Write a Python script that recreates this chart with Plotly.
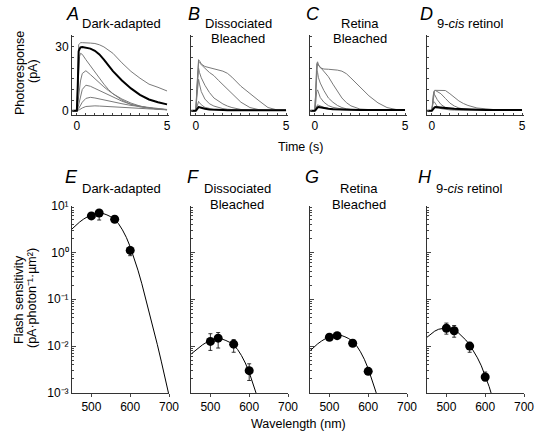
import plotly.graph_objects as go

# ---------------- data: photoresponses (pA) ----------------
time_s = [-0.25, 0, 0.05, 0.1, 0.15, 0.2, 0.3, 0.5, 0.75, 1.0, 1.25, 1.5, 1.75, 2.0, 2.5, 3.0, 3.5, 4.0, 4.5, 5.0]

A_thin = [
    [0, 0, 15, 31, 31.5, 32, 32, 32, 31.8, 31.6, 31, 30, 28.6, 27, 22.5, 18.5, 15.3, 12.5, 11, 9.3],
    [0, 0, 10, 22, 25.5, 27, 26.5, 24, 21, 18, 15, 12.5, 10, 8, 5, 3, 1.8, 1.2, 0.8, 0.5],
    [0, 0, 3, 8, 11, 14, 17.5, 18.8, 17, 15, 13, 11.2, 9.5, 8, 5.5, 3.6, 2.2, 1.3, 0.8, 0.5],
    [0, 0, 1, 3, 5, 7, 10, 12, 11.5, 10.5, 9.5, 8.5, 7.5, 6.3, 4.5, 3, 2, 1.3, 0.8, 0.5],
    [0, 0, 0.3, 1, 1.8, 2.5, 4, 5.8, 6.3, 6, 5.5, 5, 4.6, 4.2, 3.3, 2.5, 2, 1.5, 1, 0.6],
    [0, 0, 0, 0.3, 0.5, 0.8, 1.3, 2, 2.3, 2.3, 2.2, 2.1, 2, 1.9, 1.6, 1.3, 1, 0.8, 0.6, 0.4],
]
A_thick = [0, 0, 12, 28, 29, 29.8, 30, 29.8, 29.2, 28.2, 26.5, 24, 21, 18.6, 14.2, 10.5, 7.5, 5.3, 4, 3]

B_thin = [
    [0, 0, 10, 22, 24, 23.5, 22, 20.8, 20.2, 19.6, 19.2, 18.6, 17.6, 15.8, 11.5, 8, 4.7, 1.5, 0.4, 0.3],
    [0, 0, 9, 21, 23, 22.5, 21.5, 20, 18, 16.5, 14.3, 12.3, 10.2, 8, 4, 1.5, 0.5, 0.3, 0.3, 0.2],
    [0, 0, 8, 17, 20, 18, 15.5, 12, 8.6, 6, 4.4, 3.2, 2.2, 1.5, 0.6, 0.3, 0.2, 0.2, 0.2, 0.2],
    [0, 0, 6, 13.5, 14.8, 12.5, 9, 5.5, 3.3, 2.2, 1.5, 1, 0.7, 0.5, 0.3, 0.2, 0.2, 0.2, 0.2, 0.2],
    [0, 0, 1.5, 4, 4.4, 3.8, 2.8, 1.6, 1, 0.6, 0.4, 0.3, 0.3, 0.2, 0.2, 0.2, 0.2, 0.2, 0.2, 0.2],
]
B_thick = [0, 0, 0.5, 1.4, 1.7, 1.6, 1.3, 0.9, 0.6, 0.4, 0.3, 0.3, 0.2, 0.2, 0.2, 0.2, 0.2, 0.2, 0.2, 0.2]

C_thin = [
    [0, 0, 10, 22, 23, 21.5, 20.2, 19.6, 19.5, 19.4, 19.1, 18.6, 17.4, 15.4, 11.2, 7, 3.7, 1.5, 0.6, 0.4],
    [0, 0, 9, 20, 22.3, 21.5, 20.5, 18.7, 16, 12.5, 9, 6, 3.8, 2.3, 0.8, 0.4, 0.3, 0.3, 0.3, 0.3],
    [0, 0, 9, 19, 18, 15.5, 13, 9.5, 6, 4, 2.5, 1.5, 0.9, 0.6, 0.4, 0.3, 0.3, 0.3, 0.3, 0.3],
    [0, 0, 4, 9, 9.8, 8.5, 6.2, 4, 2.4, 1.6, 1.1, 0.8, 0.6, 0.5, 0.4, 0.3, 0.3, 0.3, 0.3, 0.3],
    [0, 0, 1, 2.5, 2.8, 2.6, 2.2, 1.6, 1.1, 0.8, 0.6, 0.5, 0.4, 0.4, 0.3, 0.3, 0.3, 0.3, 0.3, 0.3],
]
C_thick = [0, 0, 0.4, 1.2, 1.6, 1.7, 1.5, 1.2, 0.9, 0.7, 0.6, 0.5, 0.45, 0.4, 0.35, 0.3, 0.3, 0.3, 0.3, 0.3]

D_thin = [
    [0, 0, 4, 9, 9.6, 9.6, 9.5, 9.6, 9.5, 8, 6.2, 4.6, 3.4, 2.5, 1.3, 0.8, 0.5, 0.4, 0.3, 0.3],
    [0, 0, 3.5, 8, 9.2, 9.5, 9, 8, 5.8, 3.6, 2.2, 1.3, 0.8, 0.6, 0.4, 0.3, 0.3, 0.3, 0.3, 0.3],
    [0, 0, 5, 8.3, 7.6, 6.6, 5.2, 3, 1.5, 0.8, 0.5, 0.4, 0.3, 0.3, 0.3, 0.3, 0.3, 0.3, 0.3, 0.3],
    [0, 0, 3, 4.4, 4, 3.2, 2, 1, 0.6, 0.4, 0.3, 0.3, 0.3, 0.3, 0.3, 0.3, 0.3, 0.3, 0.3, 0.3],
]
D_thick = [0, 0, 0.5, 1.3, 1.6, 1.7, 1.6, 1.4, 1.2, 1.0, 0.9, 0.8, 0.7, 0.6, 0.5, 0.4, 0.35, 0.3, 0.3, 0.3]

# ---------------- data: flash sensitivity ----------------
wavelength_pts = [500, 520, 560, 600]
E_sens = [6.0, 6.9, 5.1, 1.1]
E_hi = [6.8, 8.1, 5.8, 1.3]
E_lo = [5.2, 4.9, 4.4, 0.85]
F_sens = [0.0126, 0.0148, 0.011, 0.003]
F_hi = [0.0184, 0.0195, 0.0138, 0.0042]
F_lo = [0.0081, 0.0091, 0.0074, 0.00185]
G_sens = [0.0155, 0.0167, 0.0115, 0.0029]
G_hi = [0.017, 0.0183, 0.0127, 0.0032]
G_lo = [0.014, 0.0152, 0.0104, 0.0026]
H_sens = [0.024, 0.0213, 0.010, 0.0022]
H_hi = [0.031, 0.0275, 0.012, 0.0028]
H_lo = [0.018, 0.0155, 0.0074, 0.0018]

curve_wl = [450, 460, 470, 480, 490, 500, 510, 520, 530, 540, 550, 560, 570,
            580, 590, 600, 610, 620, 630, 640, 650, 660, 670, 680, 690, 700]
E_curve_log = [0.50, 0.58, 0.65, 0.71, 0.76, 0.79, 0.82, 0.83, 0.83, 0.80, 0.76, 0.70, 0.61,
               0.48, 0.32, 0.12, -0.11, -0.38, -0.67, -0.98, -1.30, -1.63, -1.97, -2.32, -2.68, -3.05]
F_curve_log = [-2.17, -2.10, -2.03, -1.97, -1.92, -1.89, -1.86, -1.85, -1.85, -1.88, -1.92, -1.98, -2.07,
               -2.20, -2.36, -2.56, -2.79, -3.06, -3.35]
G_curve_log = [-2.10, -2.02, -1.95, -1.89, -1.84, -1.81, -1.78, -1.77, -1.77, -1.80, -1.84, -1.90, -1.99,
               -2.12, -2.28, -2.48, -2.71, -2.98, -3.27]
H_curve_log = [-1.81, -1.74, -1.68, -1.64, -1.62, -1.61, -1.63, -1.66, -1.71, -1.78, -1.87, -1.97, -2.10,
               -2.25, -2.42, -2.62, -2.86, -3.13]

top_titles = ["Dark-adapted", "Dissociated<br>Bleached", "Retina<br>Bleached", "9-<i>cis</i> retinol"]
top_letters = ["A", "B", "C", "D"]
bottom_letters = ["E", "F", "G", "H"]

top_x_labels = [0, 5]
top_y_labels = [0, 30]
wl_ticks = [500, 600, 700]
dec_vals = [1e-3, 1e-2, 1e-1, 1, 10]
dec_text = ["10\u207b\u00b3", "10\u207b\u00b2", "10\u207b\u00b9", "10\u2070", "10\u00b9"]

# ---------------- layout geometry ----------------
W, H = 535, 433
FONT = "Liberation Sans, Arial, Helvetica, sans-serif"
panel_left = [72, 191, 310, 427]
panel_w = 97


def px(x):
    return x / W


def py(y):
    return 1 - y / H


fig = go.Figure()

top_sets = [(A_thin, A_thick), (B_thin, B_thick), (C_thin, C_thick), (D_thin, D_thick)]
for i, (thin, thick) in enumerate(top_sets):
    xa = "x" if i == 0 else f"x{i + 1}"
    ya = "y" if i == 0 else f"y{i + 1}"
    for tr in thin:
        fig.add_trace(go.Scatter(x=time_s, y=tr, mode="lines", xaxis=xa, yaxis=ya,
                                 line=dict(color="#7a7a7a", width=1), showlegend=False,
                                 hoverinfo="skip"))
    fig.add_trace(go.Scatter(x=time_s, y=thick, mode="lines", xaxis=xa, yaxis=ya,
                             line=dict(color="black", width=2), showlegend=False,
                             hoverinfo="skip"))

bottom_sets = [
    (E_curve_log, E_sens, E_hi, E_lo),
    (F_curve_log, F_sens, F_hi, F_lo),
    (G_curve_log, G_sens, G_hi, G_lo),
    (H_curve_log, H_sens, H_hi, H_lo),
]
for i, (clog, s, hi, lo) in enumerate(bottom_sets):
    xa = f"x{i + 5}"
    ya = f"y{i + 5}"
    fig.add_trace(go.Scatter(x=curve_wl[:len(clog)], y=[10 ** v for v in clog], mode="lines",
                             xaxis=xa, yaxis=ya, line=dict(color="black", width=1),
                             showlegend=False, hoverinfo="skip"))
    fig.add_trace(go.Scatter(
        x=wavelength_pts, y=s, mode="markers", xaxis=xa, yaxis=ya,
        marker=dict(color="black", size=9),
        error_y=dict(type="data", symmetric=False,
                     array=[h - v for h, v in zip(hi, s)],
                     arrayminus=[v - l for v, l in zip(s, lo)],
                     color="black", thickness=0.8, width=2),
        showlegend=False, hoverinfo="skip"))

layout = dict(
    width=W, height=H, autosize=False,
    margin=dict(l=0, r=0, t=0, b=0, pad=0, autoexpand=False),
    paper_bgcolor="white", plot_bgcolor="white",
    font=dict(family=FONT, size=12, color="black"),
    showlegend=False,
)

axis_common = dict(showline=True, linecolor="#333", linewidth=1, showgrid=False, zeroline=False,
                   automargin=False, tickcolor="#444",
                   tickfont=dict(family=FONT, size=12, color="black"))

top_x_minor = [k * 0.5 for k in range(11)]
top_y_minor = [0, 5, 10, 15, 20, 25, 30, 35]
minor_vals = [m * 10 ** e for e in range(-3, 1) for m in range(2, 10)]

for i in range(4):
    l = panel_left[i]
    dom_x = [px(l), px(l + panel_w)]
    xk = "xaxis" if i == 0 else f"xaxis{i + 1}"
    yk = "yaxis" if i == 0 else f"yaxis{i + 1}"
    ya_name = "y" if i == 0 else f"y{i + 1}"
    xa_name = "x" if i == 0 else f"x{i + 1}"
    layout[xk] = dict(axis_common, domain=dom_x, range=[-0.27, 5.11], anchor=ya_name,
                      tickmode="array", tickvals=top_x_labels,
                      ticks="inside", ticklen=2,
                      minor=dict(tickmode="array", tickvals=top_x_minor, ticks="inside",
                                 ticklen=2, tickcolor="#444", showgrid=False))
    layout[yk] = dict(axis_common, domain=[py(115), py(35)], range=[-2, 35.6], anchor=xa_name,
                      tickmode="array", tickvals=top_y_labels,
                      showticklabels=(i == 0),
                      ticks="inside", ticklen=2,
                      minor=dict(tickmode="array", tickvals=top_y_minor, ticks="inside",
                                 ticklen=2, tickcolor="#444", showgrid=False))
    bxk = f"xaxis{i + 5}"
    byk = f"yaxis{i + 5}"
    layout[bxk] = dict(axis_common, domain=dom_x, range=[450, 700], anchor=f"y{i + 5}",
                       tickmode="array", tickvals=wl_ticks,
                       ticks="outside", ticklen=3)
    layout[byk] = dict(axis_common, domain=[py(393), py(205.5)], type="log", range=[-3, 1],
                       anchor=f"x{i + 5}", tickmode="array", tickvals=dec_vals,
                       ticktext=dec_text, showticklabels=(i == 0),
                       ticks="inside", ticklen=4,
                       minor=dict(tickmode="array", tickvals=minor_vals, ticks="inside",
                                  ticklen=2, tickcolor="#444", showgrid=False))

annotations = []


def ann(text, x, y, size=13, angle=0, italic=False):
    annotations.append(dict(text=text,
                            x=px(x), y=py(y), xref="paper", yref="paper",
                            xanchor="center", yanchor="middle", showarrow=False,
                            textangle=angle,
                            font=dict(family=FONT, size=size, color="black",
                                      style="italic" if italic else "normal")))


letter_x = [72, 194, 313, 426]
title_x = [122, 238, 360, 470]
for i in range(4):
    ann(top_letters[i], letter_x[i], 14, size=18, italic=True)
    ann(bottom_letters[i], letter_x[i] - 1, 177, size=18, italic=True)
    lines = top_titles[i].split("<br>")
    for j, ln in enumerate(lines):
        ann(ln, title_x[i], 24 + 15 * j, size=13)
        ann(ln, title_x[i] - 1, 189 + 15.5 * j, size=13)

ann("Photoresponse", 20, 73, size=12.5, angle=-90)
ann("(pA)", 33, 71, size=12.5, angle=-90)
ann("Flash sensitivity", 19, 300, size=12.5, angle=-90)
ann("(pA\u00b7photon\u207b\u00b9\u00b7\u00b5m\u00b2)", 32, 298, size=12.5, angle=-90)
ann("Time (s)", 300, 147, size=12.5)
ann("Wavelength (nm)", 298, 424, size=12.5)

layout["annotations"] = annotations
fig.update_layout(**layout)
fig.write_html("out.html", config={"displayModeBar": False, "staticPlot": True},
               post_script="document.body.style.margin='0px';document.body.style.overflow='hidden';")
